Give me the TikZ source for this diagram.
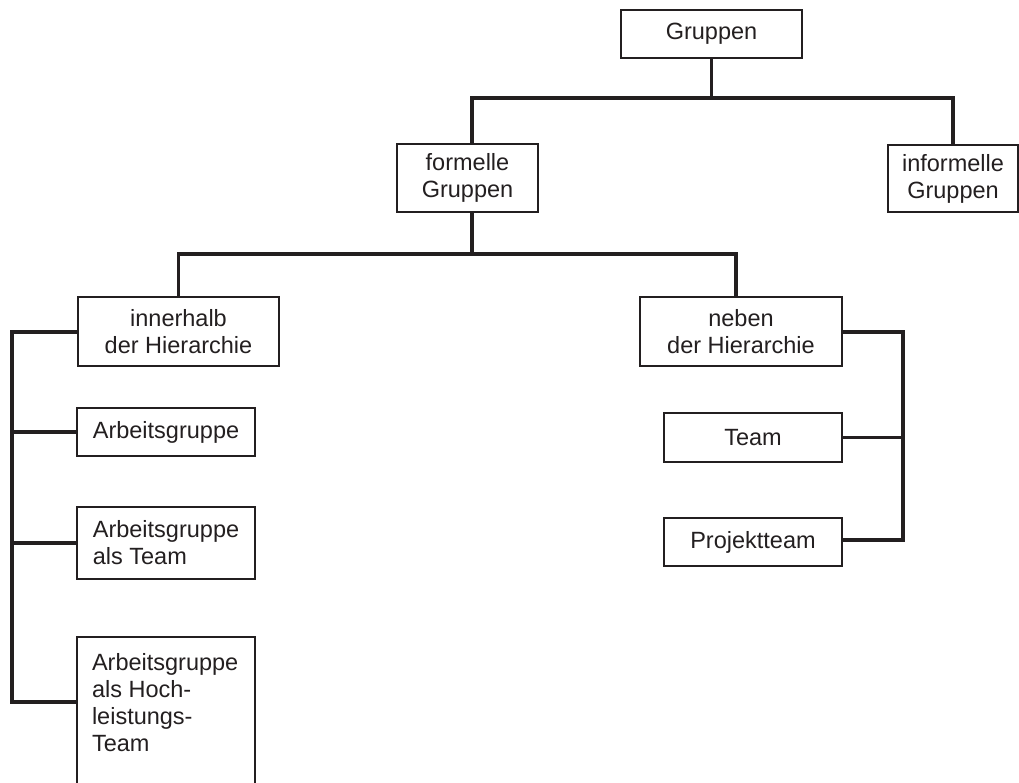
\documentclass[tikz,border=0pt]{standalone}
\usepackage{fontspec}
\setmainfont{Liberation Sans}
\usetikzlibrary{calc}
\definecolor{ink}{HTML}{231F20}
\begin{document}
\begin{tikzpicture}[x=1pt,y=1pt,
  box/.style={draw=ink, line width=2.4pt, rectangle, inner sep=0pt, text=ink,
    font=\fontsize{23.5}{27}\selectfont},
  cbox/.style={box, align=center},
  lbox/.style={box, align=left},
  txt/.style={inner sep=0pt, text=ink, align=left, font=\fontsize{23.5}{27}\selectfont},
  conn/.style={draw=ink, line width=3.2pt}]
\useasboundingbox (0,0) rectangle (1019,782);
\begin{scope}
\clip (0,0) rectangle (1019,782);
% nodes
\node[cbox, minimum width=181, minimum height=48] (G) at (711.5,748) {Gruppen};
\node[cbox, minimum width=141, minimum height=68] (F) at (467.5,604) {formelle\\Gruppen};
\node[cbox, minimum width=130, minimum height=67] (I) at (953,603.5) {informelle\\Gruppen};
\node[cbox, minimum width=201, minimum height=69] (IH) at (178.5,450.5) {innerhalb\\der Hierarchie};
\node[cbox, minimum width=202, minimum height=69] (NH) at (741,450.5) {neben\\der Hierarchie};
\node[lbox, minimum width=178, minimum height=48] (AG) at (166,350) {Arbeitsgruppe};
\node[lbox, minimum width=178, minimum height=72] (AT) at (166,239) {Arbeitsgruppe\\als Team};
\node[box, minimum width=178, minimum height=160, anchor=north] (AH) at (166,146) {};
\node[txt, anchor=north west] (AHt) at ($(AH.north west)+(16,-17)$) {Arbeitsgruppe\\als Hoch-\\leistungs-\\Team};
\node[cbox, minimum width=178, minimum height=49] (T) at (753,344.5) {Team};
\node[cbox, minimum width=178, minimum height=48] (P) at (753,240) {Projektteam};
% junction coordinates
\coordinate (j1) at (711.5,684);
\coordinate (j1l) at (472,684);
\coordinate (j1r) at (953,684);
\coordinate (j2) at (472,528);
\coordinate (j2l) at (178.5,528);
\coordinate (j2r) at (736,528);
\coordinate (bl) at (12,450);
\coordinate (blb) at (12,80);
\coordinate (br) at (903,450);
\coordinate (brb) at (903,242);
\end{scope}
% connectors
\draw[conn] (G.south) -- (j1);
\draw[conn] (j1l |- F.north) -- (j1l) -- (j1r) -- (I.north);
\draw[conn] (j2 |- F.south) -- (j2);
\draw[conn] (IH.north) -- (j2l) -- (j2r) -- (j2r |- NH.north);
\draw[conn] (IH.west |- bl) -- (bl) -- (blb) -- (blb -| AH.west);
\draw[conn] (bl |- AG.west) -- (AG.west);
\draw[conn] (bl |- AT.west) -- (AT.west);
\draw[conn] (NH.east |- br) -- (br) -- (brb) -- (brb -| P.east);
\draw[conn] (br |- T.east) -- (T.east);
\end{tikzpicture}
\end{document}
